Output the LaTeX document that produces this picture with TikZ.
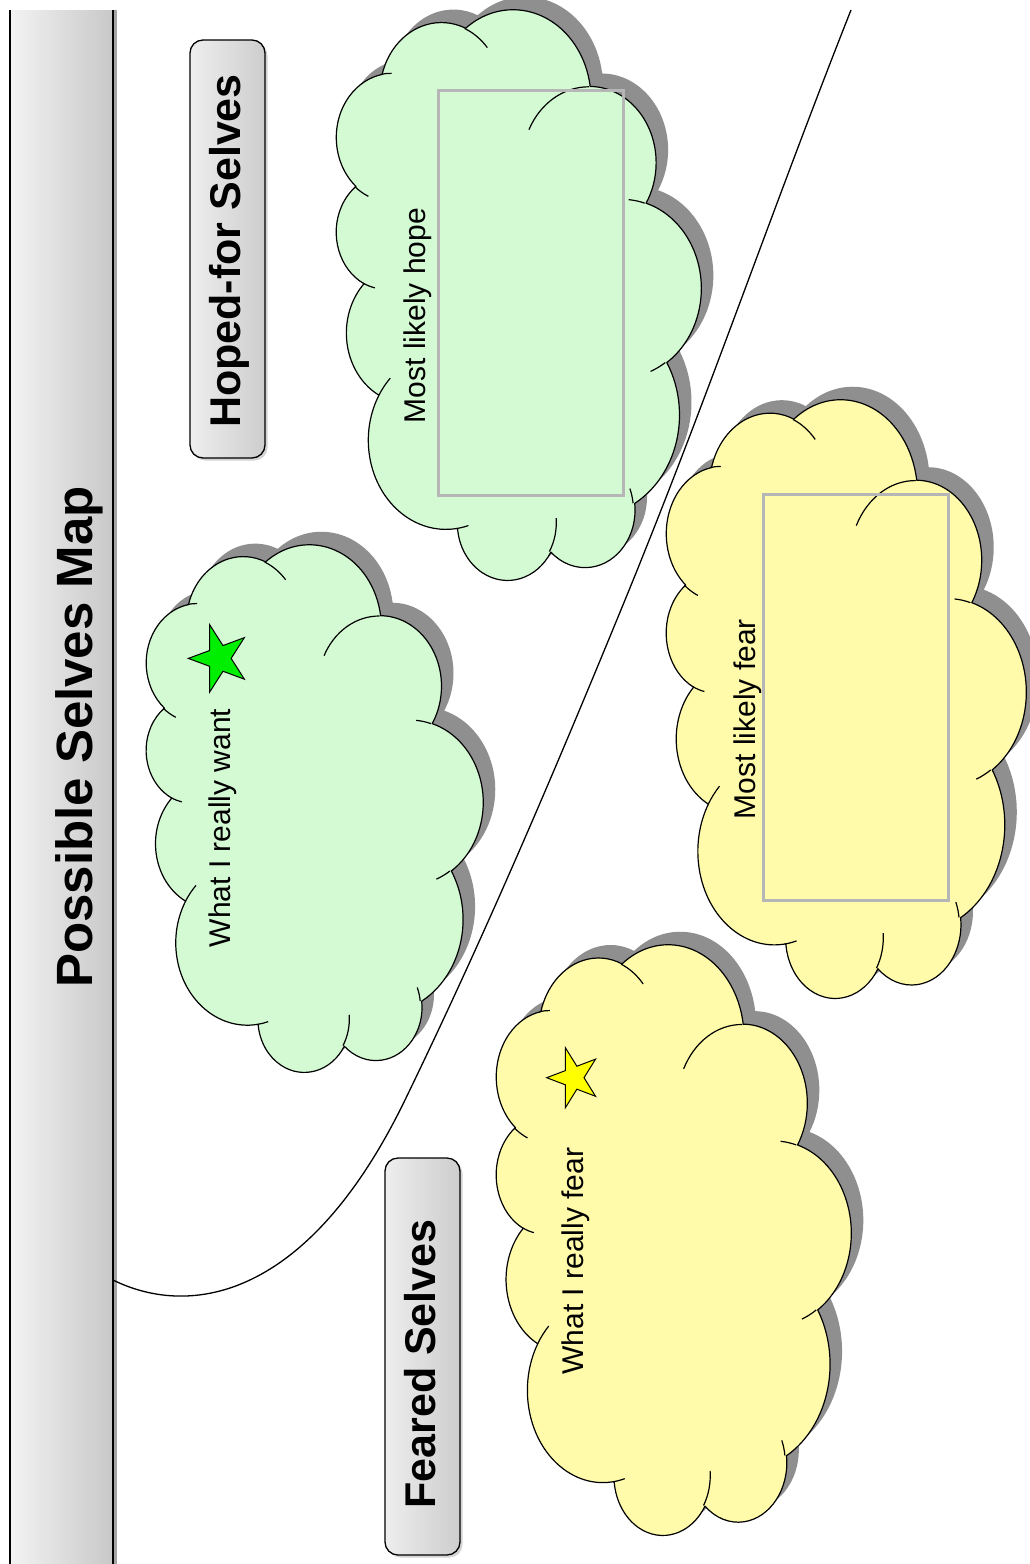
\documentclass[tikz,border=0pt]{standalone}
\usepackage{fontspec}
\setmainfont{Liberation Sans}
\usetikzlibrary{shapes.geometric,shadows}
\definecolor{hopegreen}{RGB}{212,250,212}
\definecolor{fearyellow}{RGB}{255,251,170}
\definecolor{shadowgray}{RGB}{143,143,143}
\definecolor{rectgray}{RGB}{182,182,182}
\definecolor{barlight}{RGB}{243,243,243}
\definecolor{bardark}{RGB}{200,200,200}
\definecolor{boxlight}{RGB}{238,238,238}
\definecolor{boxdark}{RGB}{205,205,205}
\definecolor{stargreen}{RGB}{0,238,0}
\definecolor{staryellow}{RGB}{255,255,0}

\tikzset{
  cloudline/.style={line width=1.2pt, line join=round},
  cloudtext/.style={font=\fontsize{30}{36}\selectfont, rotate=90, inner sep=0pt},
  headtext/.style={font=\fontsize{43}{50}\selectfont\bfseries, rotate=90, inner sep=0pt},
  titletext/.style={font=\fontsize{51}{60}\selectfont\bfseries, rotate=90, inner sep=0pt},
  inrect/.style={draw=rectgray, line width=3pt, inner sep=0pt},
  selfbox/.style={draw=black, line width=1.3pt, rounded corners=13pt, left color=boxlight,
    right color=boxdark, inner sep=0pt,
    drop shadow={shadow xshift=2.5pt, shadow yshift=-2.5pt, opacity=0.35}},
  starshape/.style={star, star points=5, star point ratio=2.618, shape border rotate=90,
    draw=black, line width=1pt, inner sep=0pt, transform shape},
  divider/.style={line width=1.3pt}
}

% PowerPoint-style cloud outline, in units of 1/100 of the 43200 grid
\newcommand{\cloudoutline}[1]{%
  \path[#1] (39.00,143.70)
    arc[start angle=-187.75, end angle=-59.63, x radius=67.53, y radius=91.90]
    arc[start angle=-152.02, end angle=-45.45, x radius=53.33, y radius=72.67]
    arc[start angle=-153.49, end angle=-37.32, x radius=43.65, y radius=59.45]
    arc[start angle=-139.71, end angle=-10.21, x radius=48.57, y radius=65.95]
    arc[start angle=-74.77, end angle=23.21, x radius=53.33, y radius=72.73]
    arc[start angle=-37.53, end angle=81.86, x radius=67.75, y radius=92.20]
    arc[start angle=0.46, end angle=121.97, x radius=57.85, y radius=78.67]
    arc[start angle=16.85, end angle=146.23, x radius=67.52, y radius=92.15]
    arc[start angle=58.98, end angle=150.19, x radius=77.20, y radius=105.43]
    arc[start angle=83.31, end angle=223.11, x radius=43.60, y radius=59.18]
    arc[start angle=120.35, end angle=264.11, x radius=43.45, y radius=59.45]
    -- cycle;}
\newcommand{\cloudcreases}{%
  \draw[cloudline]
    (46.93,261.77) arc[start angle=85.55, end angle=120.36, x radius=43.45, y radius=59.45]
    (69.28,348.99) arc[start angle=68.23, end angle=83.31, x radius=43.60, y radius=59.18]
    (164.78,390.90) arc[start angle=146.23, end angle=158.48, x radius=67.52, y radius=92.15]
    (288.27,347.51) arc[start angle=4.74, end angle=16.85, x radius=67.52, y radius=92.15]
    (341.29,229.54) arc[start angle=-64.03, end angle=0.46, x radius=57.85, y radius=78.67]
    (417.98,153.54) arc[start angle=23.21, end angle=49.64, x radius=53.33, y radius=72.73]
    (383.24,54.26) arc[start angle=-10.21, end angle=0.82, x radius=48.57, y radius=65.95]
    (290.78,39.52) arc[start angle=-156.28, end angle=-139.71, x radius=48.57, y radius=65.95]
    (221.41,47.20) arc[start angle=-167.73, end angle=-153.49, x radius=43.65, y radius=59.45]
    (140.00,51.92) arc[start angle=-59.63, end angle=-45.74, x radius=67.53, y radius=91.90]
    (41.27,157.89) arc[start angle=163.19, end angle=172.25, x radius=67.53, y radius=91.90];}
% #1 name, #2 left, #3 bottom, #4 width, #5 height, #6 fill colour
\newcommand{\putcloud}[6]{%
  \begin{scope}[shift={(#2+12,#3-13)}, x={(0pt,#5/432*1pt)}, y={(#4/432*1pt,0pt)}]
    \cloudoutline{fill=shadowgray}
  \end{scope}
  \begin{scope}[shift={(#2,#3)}, x={(0pt,#5/432*1pt)}, y={(#4/432*1pt,0pt)}]
    \cloudoutline{fill=#6, draw=black, cloudline}
    \cloudcreases
    \coordinate (#1) at (216,216);
  \end{scope}}

\begin{document}
\begin{tikzpicture}[x=1pt, y=-1pt]
\useasboundingbox (0,0) rectangle (1029,1564);

% title bar
\fill[shadowgray!80] (113,10) rectangle (117,1564);
\shade[left color=barlight, right color=bardark] (10,10) rectangle (113,1564);
\draw[line width=1.5pt] (10,10) -- (10,1564);
\draw[line width=1.5pt] (113,10) -- (113,1564);
\node[titletext] (title) at (79,737) {Possible Selves Map};

% side labels
\node[selfbox, minimum width=75pt, minimum height=418pt] (hopedbox) at (227.5,249) {};
\node[headtext] (hopedtext) at (229,251) {Hoped-for Selves};
\node[selfbox, minimum width=75pt, minimum height=397pt] (fearedbox) at (422.5,1356.5) {};
\node[headtext] (fearedtext) at (420,1364) {Feared Selves};

% clouds
\putcloud{hopecloud}{335}{580}{365}{570}{hopegreen}
\putcloud{wantcloud}{145}{1072}{337}{527}{hopegreen}
\putcloud{likelyfearcloud}{665}{998}{360}{598}{fearyellow}
\putcloud{fearcloud}{495}{1535}{355}{590}{fearyellow}

% dividing curve
\coordinate (cA) at (113,1280);
\coordinate (cB) at (405,1100);
\coordinate (cC) at (625,600);
\coordinate (cD) at (851,10);
\draw[divider] (cA) .. controls (190,1318) and (308,1300) .. (cB)
  .. controls (486,933) and (556.5,767) .. (cC)
  .. controls (705.8,403) and (773,207) .. (cD);

% inner rectangles
\node[inrect, minimum width=185pt, minimum height=405pt] (hoperect) at (530.5,292.5) {};
\node[inrect, minimum width=185pt, minimum height=406pt] (fearrect) at (855.5,697) {};

% stars
\begin{scope}[shift={(219.3,658.4)}, yscale=1.14]
  \node[starshape, fill=stargreen, minimum size=62pt] (wantstar) at (0,0) {};
\end{scope}
\begin{scope}[shift={(573.7,1077.7)}, yscale=1.17]
  \node[starshape, fill=staryellow, minimum size=54pt] (fearstar) at (0,0) {};
\end{scope}

% cloud labels
\node[cloudtext] (hopelabel) at (418,315.5) {Most likely hope};
\node[cloudtext] (wantlabel) at (223,828) {What I really want};
\node[cloudtext] (likelyfearlabel) at (748,719) {Most likely fear};
\node[cloudtext] (fearlabel) at (576,1261) {What I really fear};
\end{tikzpicture}
\end{document}
